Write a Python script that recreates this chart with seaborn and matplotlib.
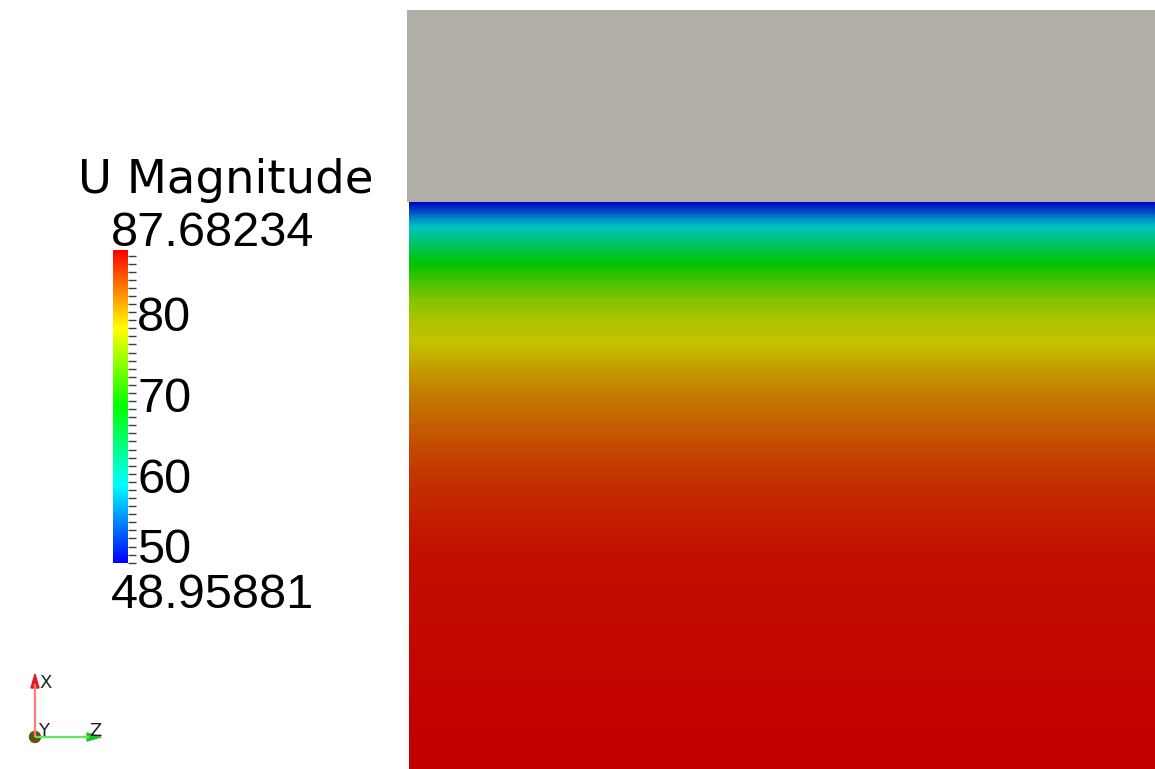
import numpy as np
import matplotlib
matplotlib.use("Agg")
import matplotlib.pyplot as plt
import matplotlib.transforms as mtransforms
from matplotlib.colors import LinearSegmentedColormap, Normalize
from matplotlib.cm import ScalarMappable
from matplotlib.patches import Polygon, Circle
import seaborn as sns

# Velocity-magnitude profile across the flow, from the upper wall (0) downward (1)
wall_distance = [0.000, 0.018, 0.032, 0.046, 0.067, 0.088, 0.108, 0.138, 0.173, 0.208,
                 0.249, 0.296, 0.349, 0.402, 0.455, 0.508, 0.561, 0.614, 0.702, 0.790,
                 0.878, 1.000]
u_magnitude = [48.96, 53.0, 56.5, 59.0, 62.5, 65.5, 68.3, 71.5, 74.9, 76.8,
               78.0, 80.0, 81.8, 83.2, 84.5, 85.5, 86.2, 86.8, 87.1, 87.3,
               87.5, 87.68]
range_min = 48.95881
range_max = 87.68234
tick_values = [50, 60, 70, 80]
tick_labels = ["50", "60", "70", "80"]
legend_title = "U Magnitude"

W, H = 1155, 769
sns.set_style("white")
plt.rcParams["font.family"] = ["DejaVu Sans"]

fig = plt.figure(figsize=(W / 100, H / 100), dpi=100)
fig.patch.set_facecolor("white")

# Blue-to-red rainbow lookup table, plus a shaded copy for the lit surface
rainbow = [(0, 0, 1), (0, 1, 1), (0, 1, 0), (1, 1, 0), (1, 0, 0)]
cmap = LinearSegmentedColormap.from_list("rainbow_b2r", rainbow, N=512)
shade = 0.765
cmap_lit = LinearSegmentedColormap.from_list(
    "rainbow_b2r_lit", [tuple(c * shade for c in col) for col in rainbow], N=512)
norm = Normalize(vmin=range_min, vmax=range_max)


def fx(px):
    return px / W


def fy(py):
    return 1 - py / H


# Solid (uncoloured) block above the fluid
ax_solid = fig.add_axes([fx(407), fy(202), fx(1155 - 407), (202 - 10) / H])
ax_solid.set_facecolor("#b1aea8")
ax_solid.set_xticks([]); ax_solid.set_yticks([])
for s in ax_solid.spines.values():
    s.set_visible(False)

# Fluid region coloured by U magnitude
ax_f = fig.add_axes([fx(409), 0, fx(1155 - 409), (769 - 202) / H])
Y = np.asarray(wall_distance)
U = np.column_stack([u_magnitude, u_magnitude])
ax_f.contourf([0.0, 1.0], Y, U, levels=np.linspace(range_min, range_max, 400),
              cmap=cmap_lit, norm=norm, extend="both", antialiased=False)
ax_f.set_xlim(0, 1)
ax_f.set_ylim(1, 0)
ax_f.axis("off")

# Scalar bar
cax = fig.add_axes([fx(113), fy(563), fx(15), 313 / H])
cb = fig.colorbar(ScalarMappable(norm=norm, cmap=cmap), cax=cax)
cb.outline.set_visible(False)
cax.yaxis.set_ticks(np.arange(49, 88, 1))
cax.yaxis.set_ticklabels([])
cax.tick_params(axis="y", which="major", direction="out", length=5.8, width=1.0,
                color="#3c3c3c", right=True, left=False)
cax.minorticks_off()

num_font = dict(family="Liberation Sans", size=35, color="black")
for v, lab in zip(tick_values, tick_labels):
    dy = -8 if v == tick_values[0] else -19
    tr = mtransforms.blended_transform_factory(cax.transAxes, cax.transData) + \
        mtransforms.ScaledTranslation(9 / 100, dy / 100, fig.dpi_scale_trans)
    cax.text(1.0, v, lab, transform=tr, ha="left", va="baseline", **num_font)

fig.text(fx(78), fy(193), legend_title, ha="left", va="baseline",
         family="DejaVu Sans", size=33.5, color="black")
fig.text(fx(111), fy(246), f"{range_max:.5f}", ha="left", va="baseline", **num_font)
fig.text(fx(111), fy(608), f"{range_min:.5f}", ha="left", va="baseline", **num_font)

# Orientation triad in pixel coordinates
ax_o = fig.add_axes([0, 0, 1, 1], zorder=10)
ax_o.set_xlim(0, W)
ax_o.set_ylim(H, 0)
ax_o.axis("off")
ax_o.patch.set_alpha(0)
ox, oy = 35, 737
ax_o.plot([ox, ox], [oy, 684], color="#ff7a7a", lw=1.6, solid_capstyle="butt")
ax_o.add_patch(Polygon([[ox - 4, 688], [ox + 4, 688], [ox, 674]], closed=True,
                       color="#e01c1c"))
ax_o.plot([ox, 89], [oy, oy], color="#5ee65e", lw=1.6, solid_capstyle="butt")
ax_o.add_patch(Polygon([[87, oy - 4], [87, oy + 4], [101, oy]], closed=True,
                       color="#22c422"))
ax_o.add_patch(Circle((ox, oy), 5.5, color="#5e5412"))
triad_font = dict(family="DejaVu Sans", size=13, color="#222222", ha="left", va="baseline")
ax_o.text(39, 688, "X", **triad_font)
ax_o.text(38, 736, "Y", **triad_font)
ax_o.text(89, 736, "Z", **triad_font)

fig.savefig("out.png", dpi=100, facecolor="white")
